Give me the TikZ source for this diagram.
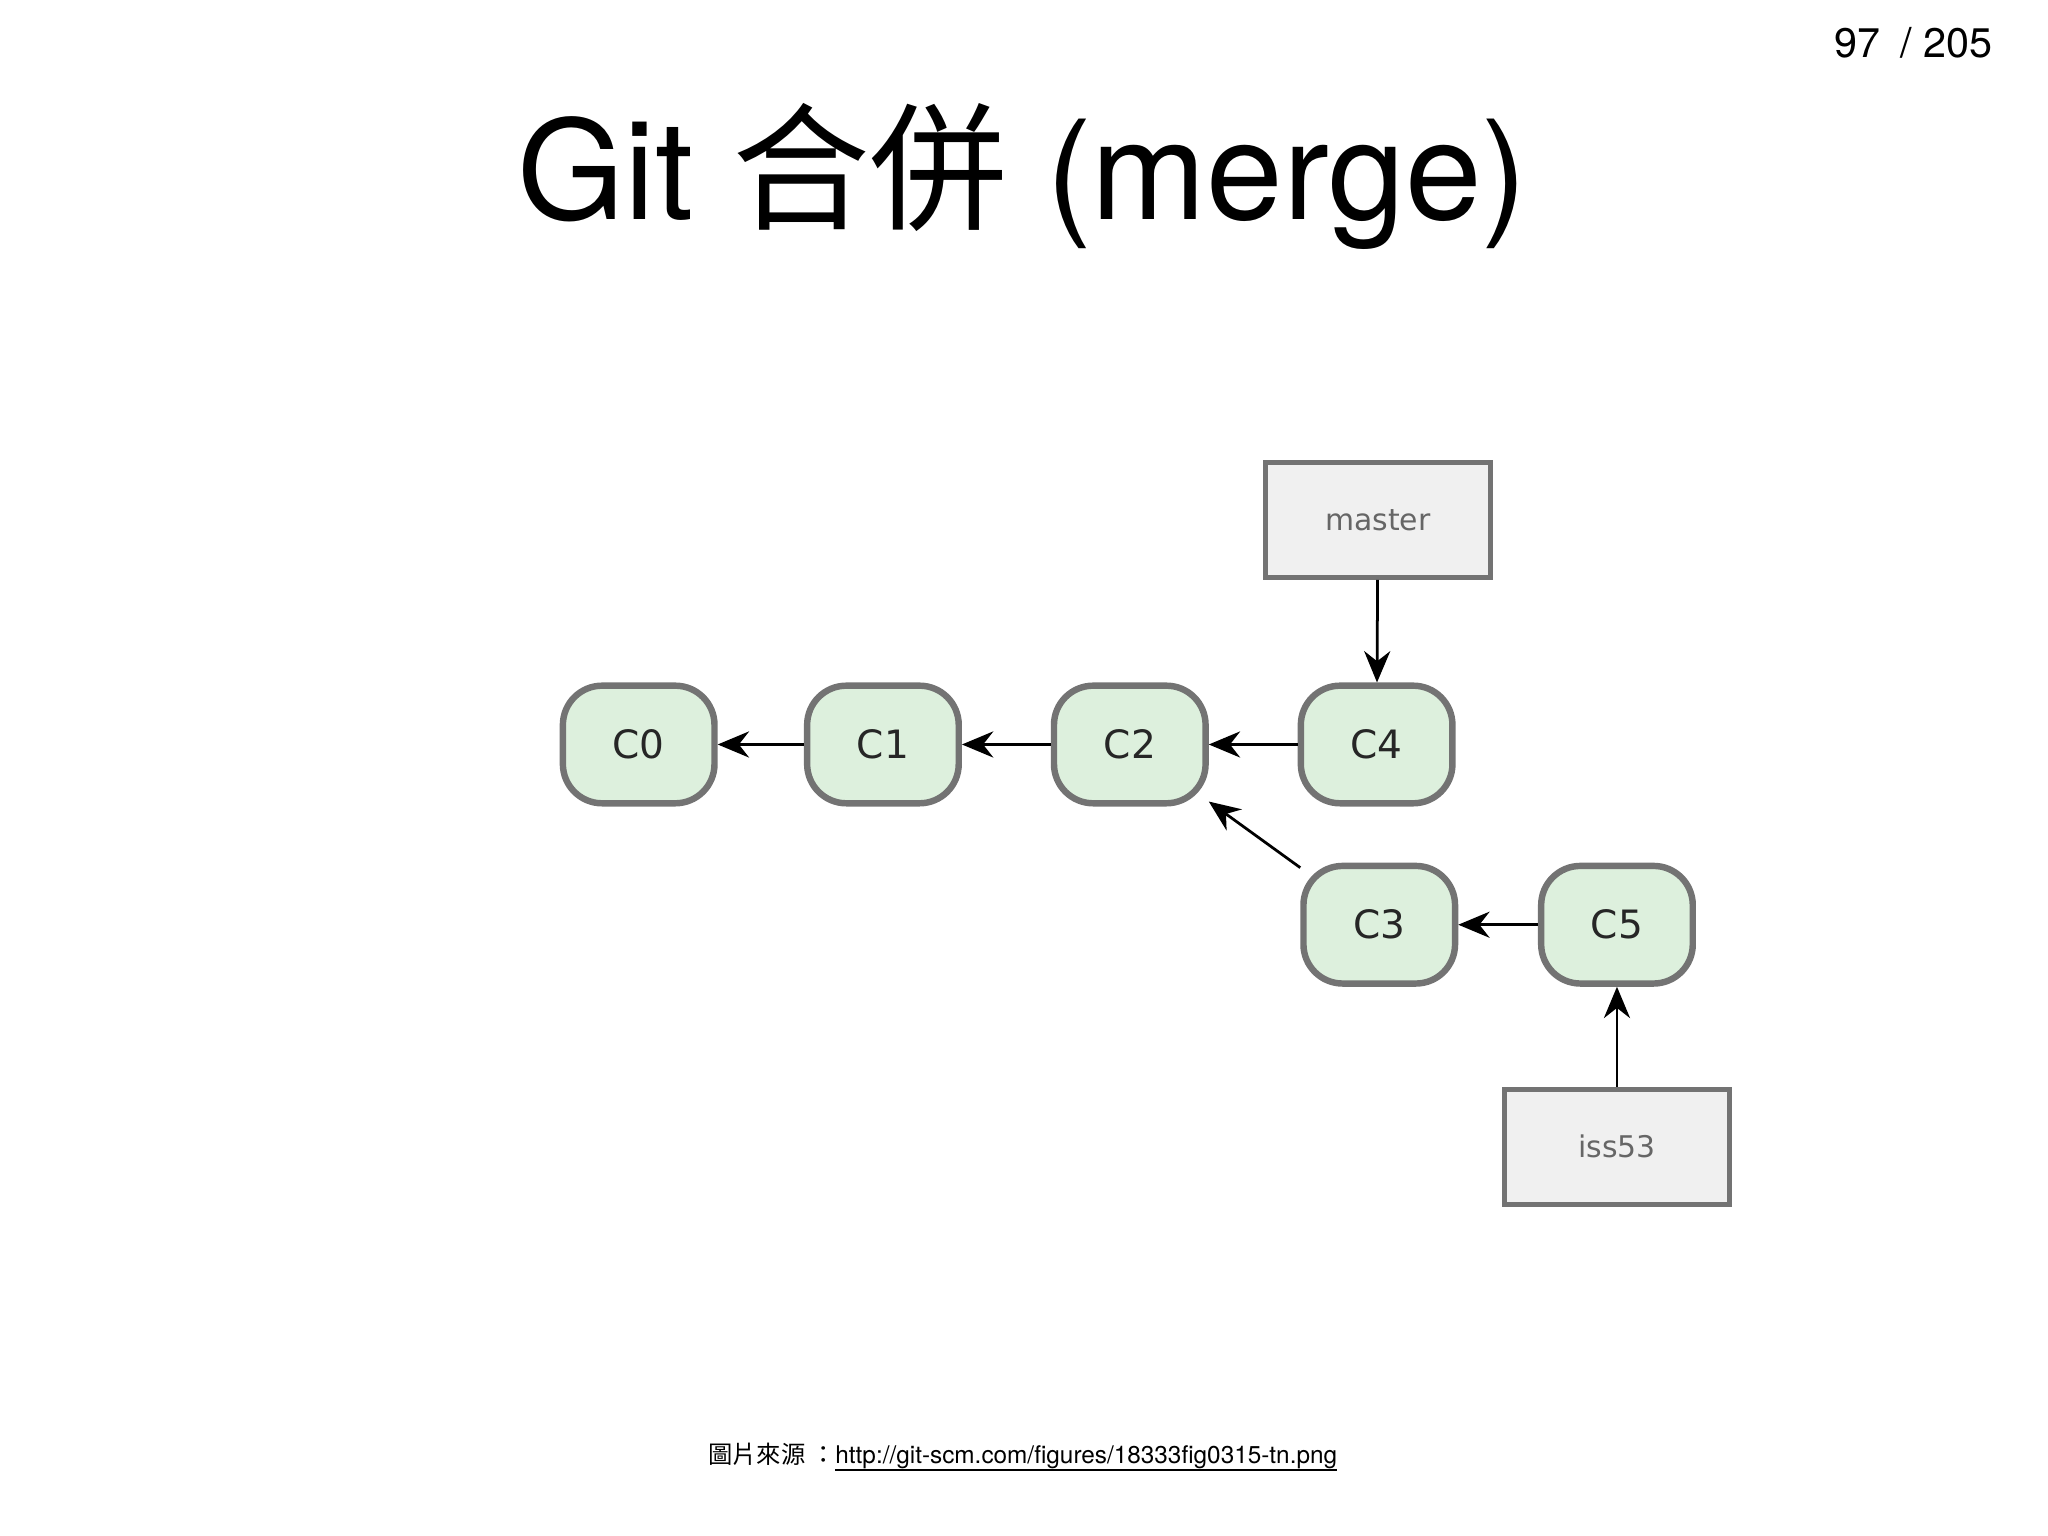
\documentclass[tikz,border=0pt]{standalone}
\usepackage{fontspec}
\setmainfont{TeX Gyre Heros}
\newfontfamily\cjk{Noto Sans CJK TC}
\newfontfamily\djsans{DejaVu Sans}
\usetikzlibrary{arrows.meta}
\begin{document}
\begin{tikzpicture}[x=0.01cm,y=-0.01cm,
  commit/.style={draw=black!55,line width=1.4pt,fill={rgb,255:red,221;green,240;blue,221},rounded corners=0.3cm,minimum width=1.16cm,minimum height=0.9cm,font=\djsans\fontsize{8.5}{10}\selectfont,text=black!85},
  ref/.style={draw=black!55,line width=1.1pt,fill=black!6,minimum width=1.72cm,minimum height=0.88cm,font=\djsans\fontsize{6.5}{8}\selectfont,text=black!60},
  arr/.style={-{Stealth[length=0.24cm,width=0.2cm]},line width=0.6pt}]
\useasboundingbox (0,0) rectangle (1568,1176);
\node[font=\fontsize{9}{10}\selectfont] (pg) at (1465,33) {97\enspace / 205};
\node[font=\fontsize{30}{34}\selectfont] (title) at (783,135) {Git {\cjk 合併} (merge)};
\node (c0) [commit] at (489,570) {C0};
\node (c1) [commit] at (676,570) {C1};
\node (c2) [commit] at (865,570) {C2};
\node (c4) [commit] at (1054,570) {C4};
\node (c3) [commit] at (1056,708) {C3};
\node (c5) [commit] at (1238,708) {C5};
\node (master) [ref] at (1055,398) {master};
\node (iss) [ref] at (1238,878) {iss53};
\draw[arr] (c1) -- (c0);
\draw[arr] (c2) -- (c1);
\draw[arr] (c4) -- (c2);
\draw[arr] (c3) -- (c2);
\draw[arr] (c5) -- (c3);
\draw[arr] (master) -- (c4);
\draw[arr] (iss) -- (c5);
\node[font=\fontsize{5.3}{6}\selectfont] (src) at (783,1116) {{\cjk 圖片來源 ：}\underline{\smash{http://git-scm.com/figures/18333fig0315-tn.png}}};
\end{tikzpicture}
\end{document}
